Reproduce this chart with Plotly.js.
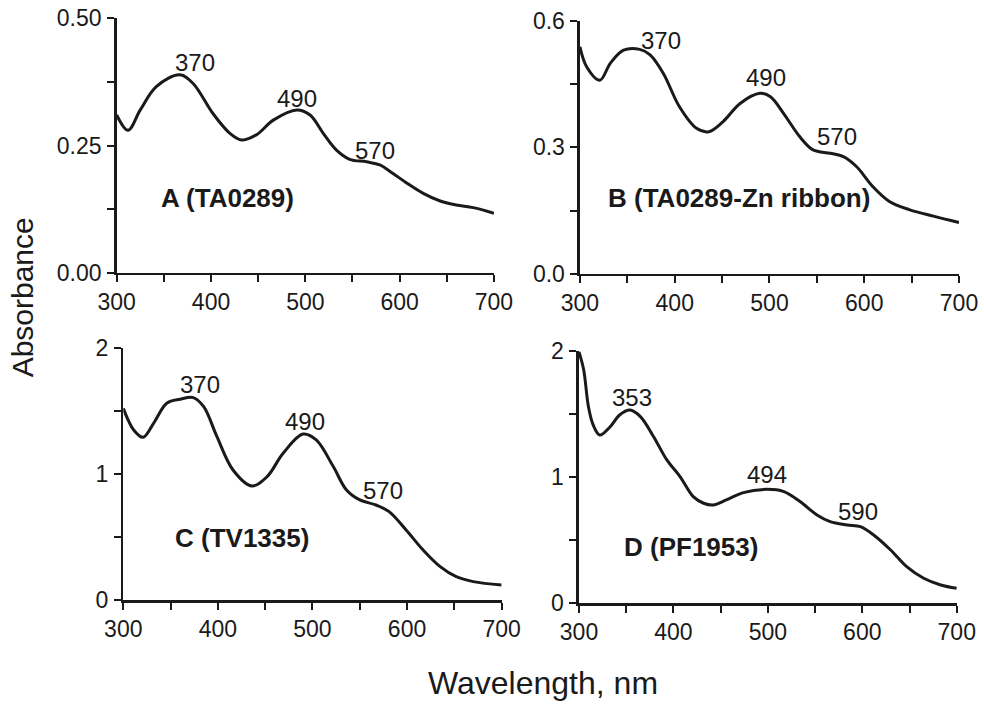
<!DOCTYPE html>
<html>
<head>
<meta charset="utf-8">
<script src="https://cdn.plot.ly/plotly-3.0.1.min.js"></script>
<style>html,body{margin:0;padding:0;background:#fff}#chart{width:984px;height:706px}</style>
</head>
<body>
<div id="chart"></div>
<script>
// Panel A (TA0289)
const wlA = [300,312,325,342,367,381,402,420,432,448,466,491,505,519,533,547,565,579,593,607,625,643,660,678,700];
const absA = [0.310,0.280,0.320,0.366,0.389,0.372,0.313,0.274,0.261,0.271,0.300,0.320,0.310,0.274,0.241,0.223,0.218,0.212,0.195,0.177,0.156,0.141,0.133,0.128,0.117];
// Panel B (TA0289-Zn ribbon)
const wlB = [300,307,321,332,346,363,374,388,405,423,436,451,469,490,501,515,532,546,564,578,592,609,627,648,673,700];
const absB = [0.538,0.491,0.459,0.499,0.530,0.532,0.519,0.475,0.396,0.345,0.337,0.361,0.404,0.428,0.420,0.380,0.325,0.294,0.286,0.278,0.254,0.207,0.171,0.152,0.137,0.122];
// Panel C (TV1335)
const wlC = [300,311,321,332,346,360,374,385,399,416,436,452,469,490,504,522,536,550,567,581,599,617,635,652,670,700];
const absC = [1.523,1.351,1.293,1.404,1.563,1.595,1.608,1.536,1.298,1.033,0.906,0.980,1.166,1.319,1.272,1.060,0.874,0.795,0.755,0.702,0.556,0.397,0.265,0.185,0.146,0.119];
// Panel D (PF1953)
const wlD = [300,305,310,315,322,333,343,354,365,379,393,407,421,432,442,456,474,499,517,534,552,566,584,598,612,630,647,665,683,700];
const absD = [1.99,1.847,1.557,1.412,1.332,1.398,1.491,1.530,1.478,1.319,1.135,1.003,0.844,0.792,0.778,0.818,0.876,0.902,0.884,0.805,0.699,0.646,0.620,0.607,0.541,0.422,0.290,0.198,0.145,0.119];

// Peak labels: [x, y, text]
const peaksA = [[383,0.414,'370'],[490.7,0.343,'490'],[573.6,0.241,'570']];
const peaksB = [[386,0.554,'370'],[496,0.466,'490'],[571,0.325,'570']];
const peaksC = [[381,1.71,'370'],[492,1.417,'490'],[575,0.874,'570']];
const peaksD = [[356.5,1.628,'353'],[498.8,1.016,'494'],[595.9,0.73,'590']];
// Panel names: [x, y, text]
const nameA = [418,0.147,'A (TA0289)'];
const nameB = [468,0.18,'B (TA0289-Zn ribbon)'];
const nameC = [425.5,0.49,'C (TV1335)'];
const nameD = [418.6,0.448,'D (PF1953)'];

const xTitle = 'Wavelength, nm';
const yTitle = 'Absorbance';

const FONT = 'Liberation Sans, Arial, sans-serif';
const INK = '#1a1a1a';

function tr(x, y, n) {
  return {x: x, y: y, xaxis: 'x' + n, yaxis: 'y' + n, type: 'scatter', mode: 'lines',
    line: {color: INK, width: 3, shape: 'spline', smoothing: 1}, hoverinfo: 'skip', cliponaxis: false};
}
const data = [tr(wlA, absA, ''), tr(wlB, absB, 2), tr(wlC, absC, 3), tr(wlD, absD, 4)];

function xax(dom, anchor) {
  return {domain: dom, anchor: anchor, range: [300, 700], tickvals: [300,400,500,600,700],
    ticks: 'outside', ticklen: 7, tickwidth: 2, tickcolor: INK, showline: true, linecolor: INK, linewidth: 2.5,
    showgrid: false, zeroline: false, tickfont: {family: FONT, size: 23, color: INK},
    minor: {tickvals: [350,450,550,650], ticks: 'outside', ticklen: 7, tickwidth: 2, tickcolor: INK, showgrid: false}};
}
function yax(dom, anchor, range, major, minorv, fmt) {
  return {domain: dom, anchor: anchor, range: range, tickvals: major, tickformat: fmt,
    ticks: 'outside', ticklen: 7, tickwidth: 2, tickcolor: INK, showline: true, linecolor: INK, linewidth: 2.5,
    showgrid: false, zeroline: false, tickfont: {family: FONT, size: 23, color: INK}, ticklabelstandoff: 1,
    minor: {tickvals: minorv, ticks: 'outside', ticklen: 7, tickwidth: 2, tickcolor: INK, showgrid: false}};
}

const annotations = [];
function addPeaks(list, n) {
  list.forEach(p => annotations.push({x: p[0], y: p[1], text: p[2], xref: 'x' + n, yref: 'y' + n,
    showarrow: false, xanchor: 'center', yanchor: 'middle', font: {family: FONT, size: 24, color: INK}}));
}
function addName(p, n) {
  annotations.push({x: p[0], y: p[1], text: '<b>' + p[2] + '</b>', xref: 'x' + n, yref: 'y' + n,
    showarrow: false, xanchor: 'center', yanchor: 'middle', font: {family: FONT, size: 26, color: INK}});
}
addPeaks(peaksA, ''); addPeaks(peaksB, 2); addPeaks(peaksC, 3); addPeaks(peaksD, 4);
addName(nameA, ''); addName(nameB, 2); addName(nameC, 3); addName(nameD, 4);
annotations.push({x: 0.552, y: 0.033, xref: 'paper', yref: 'paper', text: xTitle, showarrow: false,
  xanchor: 'center', yanchor: 'middle', font: {family: FONT, size: 32, color: INK}});
annotations.push({x: 0.0225, y: 0.579, xref: 'paper', yref: 'paper', text: yTitle, showarrow: false, textangle: -90,
  xanchor: 'center', yanchor: 'middle', font: {family: FONT, size: 30, color: INK}});

const layout = {
  width: 984, height: 706, margin: {l: 0, r: 0, t: 0, b: 0},
  paper_bgcolor: '#fff', plot_bgcolor: '#fff', showlegend: false,
  xaxis: xax([0.1186, 0.502], 'y'),
  yaxis: yax([0.6137, 0.974], 'x', [0, 0.5], [0, 0.25, 0.5], [0.125, 0.375], '.2f'),
  xaxis2: xax([0.5894, 0.9746], 'y2'),
  yaxis2: yax([0.6119, 0.9707], 'x2', [0, 0.6], [0, 0.3, 0.6], [0.15, 0.45], '.1f'),
  xaxis3: xax([0.1253, 0.5098], 'y3'),
  yaxis3: yax([0.1501, 0.5067], 'x3', [0, 2], [0, 1, 2], [0.5, 1.5], 'd'),
  xaxis4: xax([0.5884, 0.9723], 'y4'),
  yaxis4: yax([0.1455, 0.5033], 'x4', [0, 2], [0, 1, 2], [0.5, 1.5], 'd'),
  annotations: annotations
};
Plotly.newPlot('chart', data, layout, {staticPlot: true, displayModeBar: false});
</script>
</body>
</html>
